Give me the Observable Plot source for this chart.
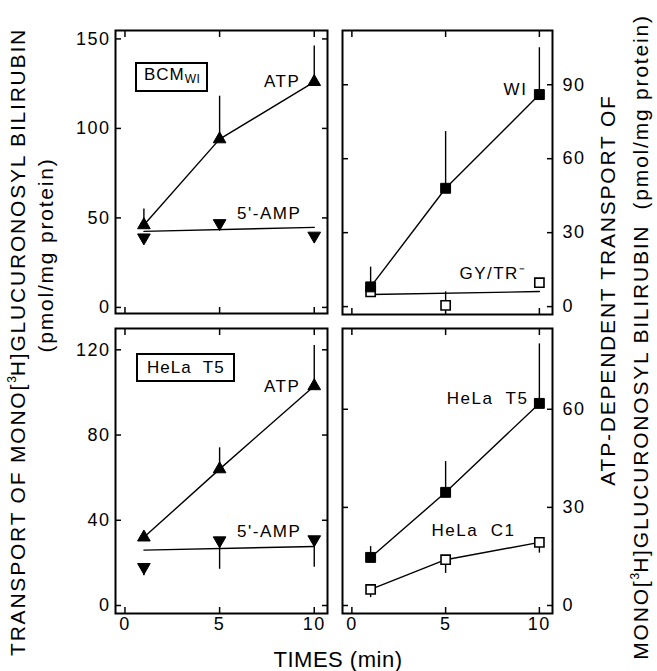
<!DOCTYPE html>
<html>
<head>
<meta charset="utf-8">
<script src="https://cdn.jsdelivr.net/npm/d3@7"></script>
<script src="https://cdn.jsdelivr.net/npm/@observablehq/plot@0.6"></script>
<style>
  body { margin: 0; background: #fff; }
  #fig { position: relative; width: 657px; height: 671px; overflow: hidden;
         font-family: "Liberation Sans", Arial, Helvetica, sans-serif; color: #000; background:#fff; }
  .panel { position: absolute; }
  .panel svg { background: transparent; overflow: visible; display: block; }
  .box { position: absolute; border: 2px solid #000; font-size: 17px; letter-spacing: 1px;
         line-height: 19px; padding: 1px 6px 1px 7px; white-space: nowrap; background: #fff; }
  .box sub { font-size: 12px; vertical-align: -3px; letter-spacing: 0.5px; }
  .vt { position: absolute; white-space: nowrap; transform: translate(-50%, -50%) rotate(-90deg);
        font-size: 21px; letter-spacing: 1.8px; line-height: 1; }
  .vt sup { font-size: 12px; vertical-align: 9px; letter-spacing: 0; }
  .xt { position: absolute; white-space: nowrap; transform: translate(-50%, -50%);
        font-size: 22px; letter-spacing: 0.5px; line-height: 1; }
</style>
</head>
<body>
<div id="fig"></div>
<script>
// ---------- data ----------
const times = [1, 5, 10];
const fitTimes = [1, 10];
const xTicks = [0, 5, 10];

// Top-left: BCM_WI (ATP vs 5'-AMP)
const tlAtp = [46, 94, 126];
const tlAtpErr = [55, 118, 146];
const tlAmp = [39, 47, 40];
const tlAmpErr = [39, 47, 36];
const tlAmpFit = [42.5, 44.7];
const tlTicks = [0, 50, 100, 150];

// Top-right: ATP-dependent, WI vs GY/TR-
const trWi = [8, 48, 86];
const trWiErr = [16, 71, 105];
const trGy = [6, 0.5, 9.7];
const trGyErr = [6, 6, 9.7];
const trGyFit = [4.9, 6.1];
const trTicks = [0, 30, 60, 90];

// Bottom-left: HeLa T5 (ATP vs 5'-AMP)
const blAtp = [32, 64, 103];
const blAtpErr = [32, 74, 122];
const blAmp = [18, 30.5, 31];
const blAmpErr = [14, 17, 18];
const blAmpFit = [26, 27.7];
const blTicks = [0, 40, 80, 120];

// Bottom-right: ATP-dependent, HeLa T5 vs HeLa C1
const brT5 = [14.7, 34.6, 61.8];
const brT5Err = [18, 44, 80];
const brC1 = [4.9, 14, 19.3];
const brC1Err = [2.4, 9.8, 16];
const brTicks = [0, 30, 60];

const seriesNames = { atp: "ATP", amp: "5'-AMP", wi: "WI", gy: "GY/TR\u207B", t5: "HeLa  T5", c1: "HeLa  C1" };

// ---------- helpers ----------
const rows = (xs, ys, es) => xs.map((x, i) => ({ x, y: ys[i], e: es ? es[i] : ys[i] }));
const FONT = "'Liberation Sans', Arial, Helvetica, sans-serif";
const fig = document.getElementById("fig");

function panel({ left, top, width, height, mL, mR, mT, mB, yDomain, yTicks, yAnchor, showX, marks }) {
  const other = yAnchor === "left" ? "right" : "left";
  const p = Plot.plot({
    width, height,
    marginLeft: mL, marginRight: mR, marginTop: mT, marginBottom: mB,
    x: { domain: [-0.5, 10.7] },
    y: { domain: yDomain },
    style: { fontFamily: FONT, fontSize: "18px", letterSpacing: "1.5px", background: "transparent", overflow: "visible", color: "black" },
    marks: [
      Plot.axisY(yTicks, { anchor: yAnchor, tickSize: -6, tickPadding: yAnchor === "left" ? 11 : 16, strokeWidth: 1.5, label: null }),
      Plot.axisY(yTicks, { anchor: other, tickSize: -6, tickFormat: () => "", strokeWidth: 1.5, label: null }),
      Plot.axisX(xTicks, { anchor: "bottom", tickSize: -6, tickPadding: 10, strokeWidth: 1.5, label: null,
                           tickFormat: showX ? (d => String(d)) : (() => "") }),
      Plot.axisX(xTicks, { anchor: "top", tickSize: -6, tickFormat: () => "", strokeWidth: 1.5, label: null }),
      ...marks,
      Plot.frame({ strokeWidth: 2, stroke: "black" })
    ]
  });
  const div = document.createElement("div");
  div.className = "panel";
  div.style.left = left + "px";
  div.style.top = top + "px";
  div.appendChild(p);
  fig.appendChild(div);
}

const LW = 1.4;
const upTri = (data) => Plot.dot(data, { x: "x", y: "y", symbol: "triangle", r: 4.7, fill: "black", stroke: "black", strokeWidth: 1 });
const dnTri = (data) => Plot.dot(data, { x: "x", y: "y", symbol: "triangle", rotate: 180, r: 4.7, fill: "black", stroke: "black", strokeWidth: 1 });
const fSq = (data) => Plot.dot(data, { x: "x", y: "y", symbol: "square", r: 5.6, fill: "black", stroke: "black", strokeWidth: 1 });
const oSq = (data) => Plot.dot(data, { x: "x", y: "y", symbol: "square", r: 5.2, fill: "white", stroke: "black", strokeWidth: 1.6 });
const err = (data) => Plot.ruleX(data, { x: "x", y1: "y", y2: "e", stroke: "black", strokeWidth: LW });
const conn = (data) => Plot.line(data, { x: "x", y: "y", stroke: "black", strokeWidth: LW });
const label = (txt, x, y, dx, dy) => Plot.text([txt], { x: () => x, y: () => y, text: d => d, textAnchor: "end", dx, dy, fontSize: 17, fill: "black" });

// ---------- top-left ----------
{
  const atp = rows(times, tlAtp, tlAtpErr), amp = rows(times, tlAmp, tlAmpErr), fit = rows(fitTimes, tlAmpFit);
  panel({ left: 60, top: 0, width: 280, height: 330, mL: 55, mR: 13, mT: 30, mB: 17,
    yDomain: [-3.4, 154.7], yTicks: tlTicks, yAnchor: "left", showX: false,
    marks: [conn(atp), conn(fit), err(atp), err(amp), dnTri(amp), upTri(atp),
      label(seriesNames.atp, times[2], tlAtp[2], -14, 0),
      label(seriesNames.amp, fitTimes[1], tlAmpFit[1], -13, -14)] });
}
// ---------- top-right ----------
{
  const wi = rows(times, trWi, trWiErr), gy = rows(times, trGy, trGyErr), fit = rows(fitTimes, trGyFit);
  panel({ left: 335, top: 0, width: 262, height: 330, mL: 7, mR: 45, mT: 30, mB: 16,
    yDomain: [-3.2, 112], yTicks: trTicks, yAnchor: "right", showX: false,
    marks: [conn(wi), conn(fit), err(wi), err(gy), oSq(gy), fSq(wi),
      label(seriesNames.wi, times[2], trWi[2], -12, -5),
      label(seriesNames.gy, times[2], trGy[2], -13, -9)] });
}
// ---------- bottom-left ----------
{
  const atp = rows(times, blAtp, blAtpErr), amp = rows(times, blAmp, blAmpErr), fit = rows(fitTimes, blAmpFit);
  panel({ left: 60, top: 320, width: 280, height: 330, mL: 55, mR: 13, mT: 8, mB: 37,
    yDomain: [-3.75, 130], yTicks: blTicks, yAnchor: "left", showX: true,
    marks: [conn(atp), conn(fit), err(atp), err(amp), dnTri(amp), upTri(atp),
      label(seriesNames.atp, times[2], blAtp[2], -14, 1),
      label(seriesNames.amp, fitTimes[1], blAmpFit[1], -13, -15)] });
}
// ---------- bottom-right ----------
{
  const t5 = rows(times, brT5, brT5Err), c1 = rows(times, brC1, brC1Err);
  panel({ left: 335, top: 320, width: 262, height: 330, mL: 7, mR: 45, mT: 8, mB: 37,
    yDomain: [-2.45, 84.7], yTicks: brTicks, yAnchor: "right", showX: true,
    marks: [conn(t5), conn(c1), err(t5), err(c1), oSq(c1), fSq(t5),
      label(seriesNames.t5, times[2], brT5[2], -11, -5),
      label(seriesNames.c1, times[2], brC1[2], -24, -12)] });
}

// ---------- boxed panel labels & axis titles ----------
function add(cls, html, x, y) {
  const d = document.createElement("div");
  d.className = cls; d.innerHTML = html;
  d.style.left = x + "px"; d.style.top = y + "px";
  fig.appendChild(d);
  return d;
}
add("box", "BCM<sub>WI</sub>", 135, 62);
add("box", "HeLa&nbsp; T5", 136, 353).style.padding = "3px 8px 3px 9px";

add("vt", "TRANSPORT OF MONO[<sup>3</sup>H]GLUCURONOSYL BILIRUBIN", 17, 342);
add("vt", "(pmol/mg protein)", 45, 255);
add("vt", "ATP-DEPENDENT TRANSPORT OF", 607, 290);
add("vt", "MONO[<sup>3</sup>H]GLUCURONOSYL BILIRUBIN&nbsp; (pmol/mg protein)", 640, 337);
add("xt", "TIMES (min)", 338, 660);
</script>
</body>
</html>
